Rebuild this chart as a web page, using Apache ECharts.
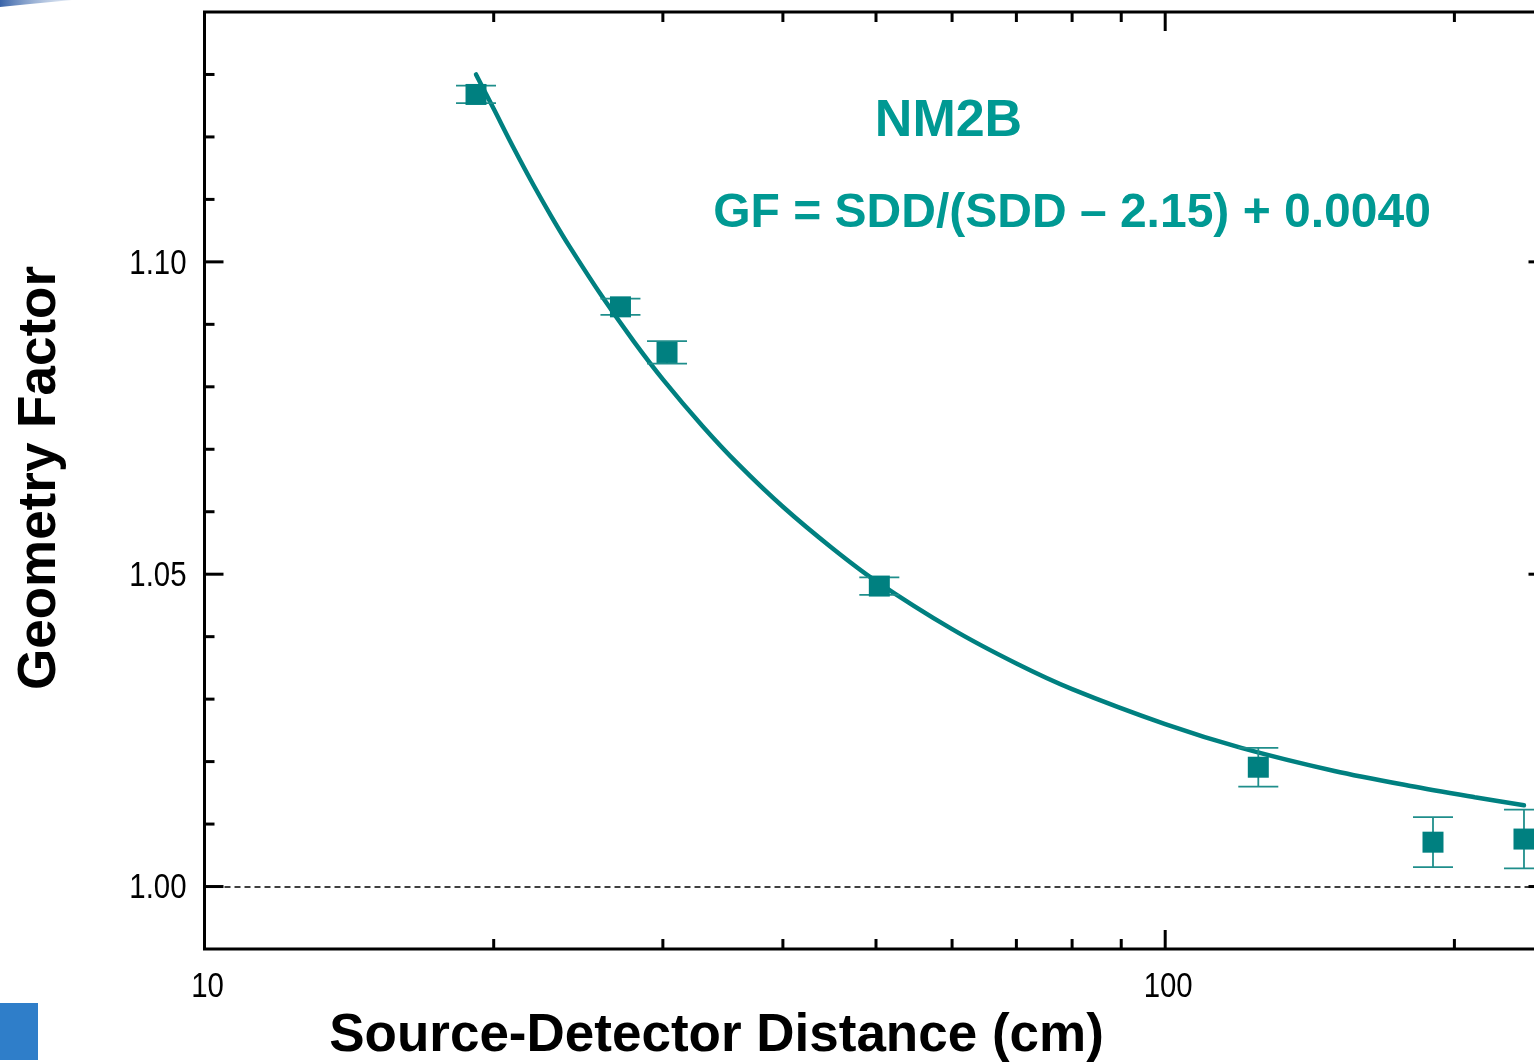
<!DOCTYPE html>
<html>
<head>
<meta charset="utf-8">
<script src="https://cdn.jsdelivr.net/npm/echarts@6/dist/echarts.min.js"></script>
<style>
html,body{margin:0;padding:0;background:#fff;}
#chart{width:1534px;height:1064px;}
</style>
</head>
<body>
<div id="chart"></div>
<script>
// ---- data ----
const sdd   = [19.17, 27.1, 30.3, 50.4, 125.0, 190.0, 236.3];
const gf    = [1.1268, 1.0928, 1.0855, 1.0481, 1.0191, 1.0071, 1.0076];
const gfErr = [0.0014, 0.0013, 0.0018, 0.0014, 0.0031, 0.0040, 0.0047];

// fitted curve, points
const fitSdd = [19.17, 20, 21, 22, 23, 24, 26, 28, 30, 33, 36, 40, 45, 50, 60, 70, 80, 100, 120, 150, 180, 210, 236.3];
const fitGf  = [1.1300, 1.1245, 1.1181, 1.1123, 1.1071, 1.1024, 1.0942, 1.0872, 1.0812, 1.0737, 1.0675, 1.0608, 1.0542, 1.0489, 1.0412, 1.0357, 1.0316, 1.0260, 1.0222, 1.0185, 1.0161, 1.0143, 1.0130];

const xMajorTicks = [10, 100];
const xTickLabels = ['10', '100'];
const xMinorTicks = [20, 30, 40, 50, 60, 70, 80, 90, 200];
const yMajorTicks = [1.00, 1.05, 1.10];
const yTickLabels = ['1.00', '1.05', '1.10'];
const yMinorTicks = [1.01, 1.02, 1.03, 1.04, 1.06, 1.07, 1.08, 1.09, 1.11, 1.12, 1.13];

const titleText = 'NM2B';
const formulaText = 'GF = SDD/(SDD \u2013 2.15) + 0.0040';
const xTitle = 'Source-Detector Distance (cm)';
const yTitle = 'Geometry Factor';

// ---- styles ----
const TEAL = '#008080';
const TEXT_TEAL = '#009993';
const FONT = '"Liberation Sans", Arial, Helvetica, sans-serif';
const LABEL_FONT = '35px "Liberation Sans", Arial, sans-serif';
const LABEL_SCALE = 0.84;

const chart = echarts.init(document.getElementById('chart'), null, {renderer: 'canvas'});

const tickStyle = {stroke: '#000', lineWidth: 3};

function labelEl(text, x, y, align) {
  return {type: 'text', x: x, y: y, scaleX: LABEL_SCALE, scaleY: 1,
    style: {text: text, font: LABEL_FONT, fill: '#000', textAlign: align, textVerticalAlign: 'middle'}};
}

const option = {
  backgroundColor: '#fff',
  animation: false,
  grid: {
    left: 204.5, top: 12, width: 1343, height: 937,
    containLabel: false, outerBoundsMode: 'none',
    show: true, borderColor: '#000', borderWidth: 3, backgroundColor: 'transparent'
  },
  xAxis: {
    type: 'log', logBase: 10, min: 10, max: 250,
    axisLine: {show: false}, axisTick: {show: false}, splitLine: {show: false},
    minorTick: {show: false}, minorSplitLine: {show: false},
    axisLabel: {show: false}
  },
  yAxis: {
    type: 'value', min: 0.99, max: 1.14, interval: 0.01,
    axisLine: {show: false}, axisTick: {show: false}, splitLine: {show: false},
    axisLabel: {show: false}
  },
  graphic: [
    {type: 'text', x: 948.5, y: 122, style: {text: titleText, font: 'bold 52px ' + FONT, fill: TEXT_TEAL, textAlign: 'center', textVerticalAlign: 'middle'}},
    {type: 'text', x: 1072, y: 214, style: {text: formulaText, font: 'bold 48px ' + FONT, fill: TEXT_TEAL, textAlign: 'center', textVerticalAlign: 'middle'}},
    {type: 'text', x: 716.5, y: 1036, style: {text: xTitle, font: 'bold 53px ' + FONT, fill: '#000', textAlign: 'center', textVerticalAlign: 'middle'}},
    {type: 'text', x: 40, y: 478, rotation: Math.PI / 2, style: {text: yTitle, font: 'bold 53px ' + FONT, fill: '#000', textAlign: 'center', textVerticalAlign: 'middle'}},
    {type: 'rect', shape: {x: 0, y: 1003, width: 38, height: 57}, style: {fill: '#2f7ec9'}},
    {type: 'polygon', shape: {points: [[0, 0], [72, 0], [30, 4], [0, 7]]},
      style: {fill: new echarts.graphic.LinearGradient(0, 0, 1, 0, [{offset: 0, color: '#3a64a8'}, {offset: 1, color: 'rgba(160,185,220,0.3)'}])}}
  ],
  series: [
    {
      name: 'ticksX', type: 'custom', silent: true, clip: false, z: 5,
      data: xMajorTicks.map((v, i) => [v, 1, 1, i]).concat(xMinorTicks.map(v => [v, 1, 0, -1])),
      encode: {x: 0, y: 1},
      renderItem: (params, api) => {
        const cs = params.coordSys;
        const x = api.coord([api.value(0), 1])[0];
        const major = api.value(2) === 1;
        const len = major ? 19 : 10;
        const b = cs.y + cs.height, t = cs.y;
        const children = [
          {type: 'line', shape: {x1: x, y1: b, x2: x, y2: b - len}, style: tickStyle},
          {type: 'line', shape: {x1: x, y1: t, x2: x, y2: t + len}, style: tickStyle}
        ];
        if (major) children.push(labelEl(xTickLabels[api.value(3)], x + 3, b + 38, 'center'));
        return {type: 'group', children: children};
      }
    },
    {
      name: 'ticksY', type: 'custom', silent: true, clip: false, z: 5,
      data: yMajorTicks.map((v, i) => [10, v, 1, i]).concat(yMinorTicks.map(v => [10, v, 0, -1])),
      encode: {x: 0, y: 1},
      renderItem: (params, api) => {
        const cs = params.coordSys;
        const y = api.coord([10, api.value(1)])[1];
        const major = api.value(2) === 1;
        const len = major ? 19 : 10;
        const l = cs.x, r = cs.x + cs.width;
        const children = [
          {type: 'line', shape: {x1: l, y1: y, x2: l + len, y2: y}, style: tickStyle},
          {type: 'line', shape: {x1: r, y1: y, x2: r - len, y2: y}, style: tickStyle}
        ];
        if (major) children.push(labelEl(yTickLabels[api.value(3)], l - 18, y + 2, 'right'));
        return {type: 'group', children: children};
      }
    },
    {
      name: 'fit', type: 'line', z: 3,
      data: fitSdd.map((x, i) => [x, fitGf[i]]),
      smooth: 0.3, showSymbol: false, symbol: 'none',
      lineStyle: {color: TEAL, width: 4.5, cap: 'round'},
      markLine: {
        silent: true, symbol: ['none', 'none'], label: {show: false},
        lineStyle: {color: '#000', width: 1.5, type: [6, 4]},
        data: [{yAxis: 1.0}]
      }
    },
    {
      name: 'err', type: 'custom', z: 4, silent: true,
      data: sdd.map((x, i) => [x, gf[i] - gfErr[i], gf[i] + gfErr[i]]),
      encode: {x: 0, y: [1, 2]},
      renderItem: (params, api) => {
        const lo = api.coord([api.value(0), api.value(1)]);
        const hi = api.coord([api.value(0), api.value(2)]);
        const hw = 20;
        const st = {stroke: '#1f8e8b', lineWidth: 1.8};
        return {type: 'group', children: [
          {type: 'line', shape: {x1: lo[0], y1: lo[1], x2: hi[0], y2: hi[1]}, style: st},
          {type: 'line', shape: {x1: lo[0] - hw, y1: lo[1], x2: lo[0] + hw, y2: lo[1]}, style: st},
          {type: 'line', shape: {x1: hi[0] - hw, y1: hi[1], x2: hi[0] + hw, y2: hi[1]}, style: st}
        ]};
      }
    },
    {
      name: 'GF', type: 'scatter', z: 4,
      data: sdd.map((x, i) => [x, gf[i]]),
      symbol: 'rect', symbolSize: 21,
      itemStyle: {color: TEAL, opacity: 1}
    }
  ]
};
chart.setOption(option);
</script>
</body>
</html>
